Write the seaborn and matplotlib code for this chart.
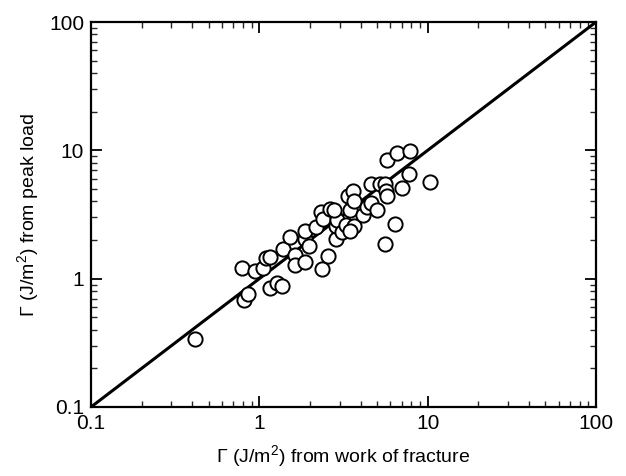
import numpy as np
import pandas as pd
import matplotlib
matplotlib.use("Agg")
import matplotlib.pyplot as plt
import seaborn as sns
from matplotlib.ticker import LogLocator, FixedLocator, NullFormatter

# Data
work_of_fracture = [0.416, 0.81, 0.857, 0.79, 0.946, 1.05, 1.10, 1.15, 1.15, 1.28,
                    1.36, 1.38, 1.53, 1.63, 1.62, 1.86, 1.86, 1.86, 1.98, 2.16,
                    2.31, 2.38, 2.62, 2.56, 2.35, 2.87, 2.85, 2.90, 2.79, 3.10,
                    3.25, 3.36, 3.58, 3.45, 3.64, 3.64, 3.45, 4.14, 4.37, 4.58,
                    4.58, 5.02, 5.20, 5.55, 5.62, 5.70, 5.70, 6.60, 7.85, 7.79,
                    7.07, 10.3, 6.38, 5.55]
peak_load = [0.338, 0.685, 0.76, 1.22, 1.14, 1.21, 1.45, 1.48, 0.846, 0.925,
             0.87, 1.69, 2.10, 1.54, 1.28, 1.34, 2.02, 2.37, 1.79, 2.52,
             3.29, 2.92, 3.52, 1.51, 1.19, 2.04, 2.56, 2.89, 3.42, 2.30,
             2.64, 4.39, 4.81, 3.42, 2.56, 4.02, 2.34, 3.16, 3.63, 3.90,
             5.42, 3.40, 5.50, 5.42, 4.81, 4.39, 8.36, 9.48, 9.90, 6.49,
             5.10, 5.69, 2.67, 1.87]
identity_x = [0.1, 100]
identity_y = [0.1, 100]
tick_values = [0.1, 1, 10, 100]
tick_labels = ["0.1", "1", "10", "100"]

sns.set_theme(style="white")
plt.rcParams['font.family'] = ['Liberation Sans', 'DejaVu Sans']
plt.rcParams['mathtext.default'] = 'regular'

fig = plt.figure(figsize=(6.26, 4.76), dpi=100)
ax = fig.add_axes([91/626, 1-407/476, (596-91)/626, (407-22)/476])

df = pd.DataFrame({"x": work_of_fracture, "y": peak_load})
line_df = pd.DataFrame({"x": identity_x, "y": identity_y})

sns.lineplot(data=line_df, x="x", y="y", ax=ax, color="black", linewidth=2.2, zorder=2)
sns.scatterplot(data=df, x="x", y="y", ax=ax, s=105, facecolor="white",
                edgecolor="black", linewidth=1.4, zorder=3)

ax.set_xscale("log")
ax.set_yscale("log")
ax.set_xlim(0.1, 100)
ax.set_ylim(0.1, 100)

ax.xaxis.set_major_locator(FixedLocator(tick_values))
ax.yaxis.set_major_locator(FixedLocator(tick_values))
ax.set_xticklabels(tick_labels)
ax.set_yticklabels(tick_labels)
ax.xaxis.set_minor_locator(LogLocator(base=10, subs=np.arange(2, 10)))
ax.yaxis.set_minor_locator(LogLocator(base=10, subs=np.arange(2, 10)))
ax.xaxis.set_minor_formatter(NullFormatter())
ax.yaxis.set_minor_formatter(NullFormatter())

ax.tick_params(which="major", direction="in", length=8, width=1.3,
               bottom=True, left=True, top=True, right=True,
               labelsize=15, colors="black", pad=5)
ax.tick_params(which="minor", direction="in", length=4, width=1.0,
               bottom=True, left=True, top=True, right=True)

for sp in ax.spines.values():
    sp.set_color("black")
    sp.set_linewidth(1.6)

ax.set_xlabel("Γ (J/m$^{2}$) from work of fracture", fontsize=14, color="black", labelpad=7)
ax.set_ylabel("Γ (J/m$^{2}$) from peak load", fontsize=14, color="black", labelpad=6)

fig.savefig("out.png", dpi=100)
